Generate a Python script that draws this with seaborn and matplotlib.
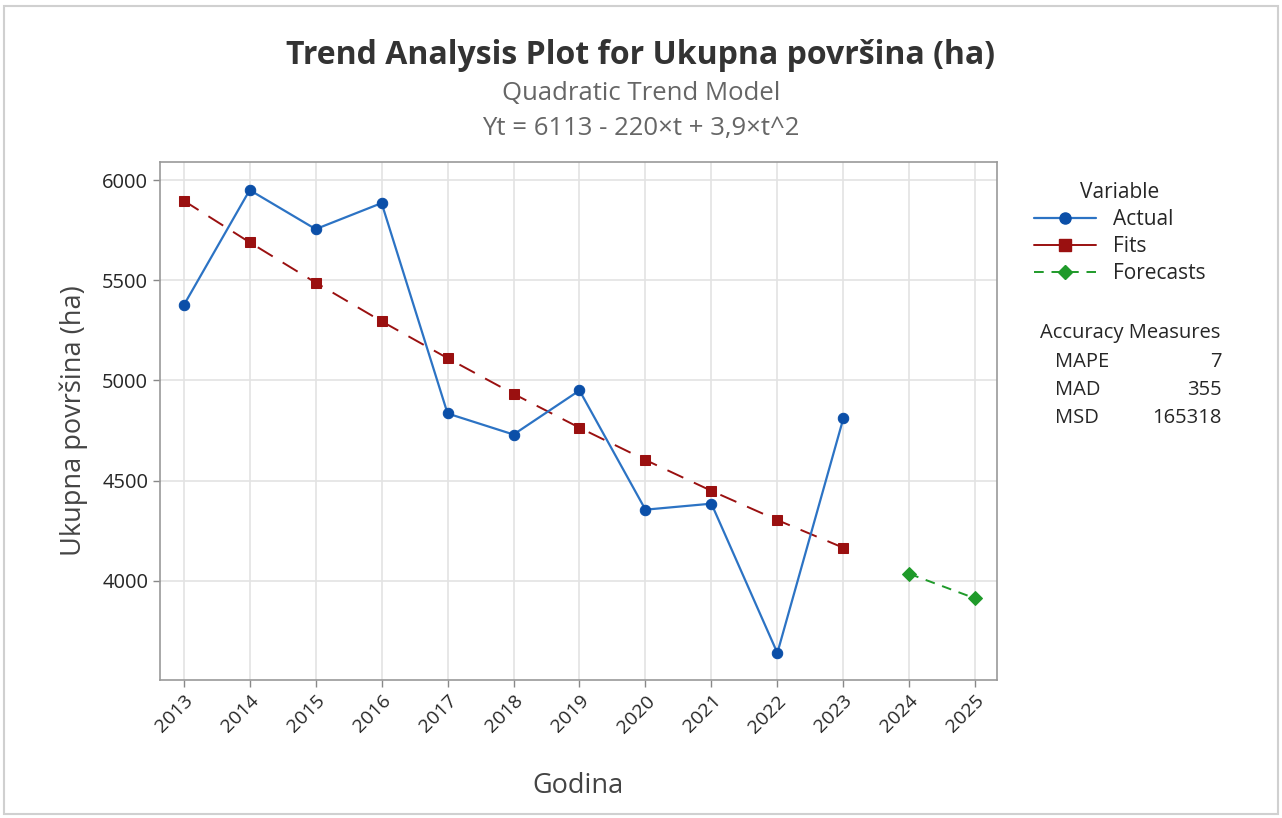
import matplotlib
matplotlib.use("Agg")
import matplotlib.pyplot as plt
import seaborn as sns
import pandas as pd
from matplotlib.lines import Line2D
from matplotlib.patches import Rectangle

years = [2013, 2014, 2015, 2016, 2017, 2018, 2019, 2020, 2021, 2022, 2023]
actual = [5375, 5950, 5755, 5885, 4835, 4730, 4950, 4355, 4385, 3640, 4810]
fits = [5897, 5689, 5488, 5295, 5111, 4933, 4764, 4603, 4449, 4303, 4165]
forecast_years = [2024, 2025]
forecasts = [4035, 3912]
tick_years = list(range(2013, 2026))
y_ticks = [4000, 4500, 5000, 5500, 6000]

sns.set_theme(style="white")
plt.rcParams['font.family'] = ['Open Sans', 'DejaVu Sans']

BLUE_LINE = "#2c73c4"
BLUE_MK = "#0b4fa8"
RED = "#9a1010"
GREEN = "#1f9a2a"
TXT = "#262626"

fig = plt.figure(figsize=(12.82, 8.18), dpi=100)
ax = fig.add_axes([160/1282, 1-680/818, (997-160)/1282, (680-162)/818])

df_a = pd.DataFrame({"Godina": years, "v": actual})
df_f = pd.DataFrame({"Godina": years, "v": fits})
df_fc = pd.DataFrame({"Godina": forecast_years, "v": forecasts})

sns.lineplot(data=df_a, x="Godina", y="v", ax=ax, color=BLUE_LINE, lw=1.6,
             marker="o", markersize=7.5, markerfacecolor=BLUE_MK, markeredgecolor=BLUE_MK, zorder=4)
sns.lineplot(data=df_f, x="Godina", y="v", ax=ax, color=RED, lw=1.4,
             marker="s", markersize=7.5, markerfacecolor=RED, markeredgecolor=RED, zorder=3)
ax.lines[-1].set_dashes([9, 6])
sns.lineplot(data=df_fc, x="Godina", y="v", ax=ax, color=GREEN, lw=1.4,
             marker="D", markersize=7, markerfacecolor=GREEN, markeredgecolor=GREEN, zorder=3)
ax.lines[-1].set_dashes([5, 4])

ax.set_xlim(2012.64, 2025.33)
ax.set_ylim(3505, 6090)
ax.set_xticks(tick_years)
ax.set_xticklabels([str(y) for y in tick_years], rotation=45, ha="right",
                   rotation_mode="anchor", fontsize=14, color=TXT)
ax.set_yticks(y_ticks)
ax.set_yticklabels([str(v) for v in y_ticks], fontsize=14.5, color=TXT)
ax.tick_params(axis="both", direction="out", length=5, width=1, color="#888888", bottom=True, left=True)
ax.grid(True, color="#e3e3e3", lw=1.2)
for s in ax.spines.values():
    s.set_color("#999999")
    s.set_linewidth(1.2)
ax.set_xlabel("Godina", fontsize=19.5, color="#444444", labelpad=26)
ax.set_ylabel("Ukupna površina (ha)", fontsize=19.5, color="#444444", labelpad=10)

fig.text(0.5, 1-55/818, "Trend Analysis Plot for Ukupna površina (ha)", ha="center", va="center",
         fontsize=23, fontweight="bold", color="#333333")
fig.text(0.5, 1-94/818, "Quadratic Trend Model", ha="center", va="center", fontsize=18.5, color="#666666")
fig.text(0.5, 1-129/818, "Yt = 6113 - 220×t + 3,9×t^2", ha="center", va="center", fontsize=18.5, color="#666666")

handles = [
    Line2D([], [], color=BLUE_LINE, lw=1.6, marker="o", markersize=8, markerfacecolor=BLUE_MK, markeredgecolor=BLUE_MK),
    Line2D([], [], color=RED, lw=1.4, marker="s", markersize=8, markerfacecolor=RED, markeredgecolor=RED),
    Line2D([], [], color=GREEN, lw=1.4, marker="D", markersize=7, markerfacecolor=GREEN, markeredgecolor=GREEN, dashes=[5, 4]),
]
leg = fig.legend(handles, ["Actual", "Fits", "Forecasts"], title="Variable", loc="upper left",
                 bbox_to_anchor=(1015/1282, 1-163/818), frameon=False, fontsize=15,
                 title_fontsize=15, handlelength=3.0, labelspacing=0.3, handletextpad=0.8)
for t in leg.get_texts():
    t.set_color(TXT)
leg.get_title().set_color(TXT)

fig.text(1040/1282, 1-333/818, "Accuracy Measures", ha="left", va="center", fontsize=14.5, color=TXT)
measures = ["MAPE", "MAD", "MSD"]
values = ["7", "355", "165318"]
for i, (m, v) in enumerate(zip(measures, values)):
    yy = 1-(362+28*i)/818
    fig.text(1055/1282, yy, m, ha="left", va="center", fontsize=14.5, color=TXT)
    fig.text(1222/1282, yy, v, ha="right", va="center", fontsize=14.5, color=TXT)

fig.patches.append(Rectangle((4/1282, 4/818), 1274/1282, 808/818, transform=fig.transFigure,
                             fill=False, edgecolor="#d0d0d0", lw=1.5))

fig.savefig("out.png", dpi=100)
